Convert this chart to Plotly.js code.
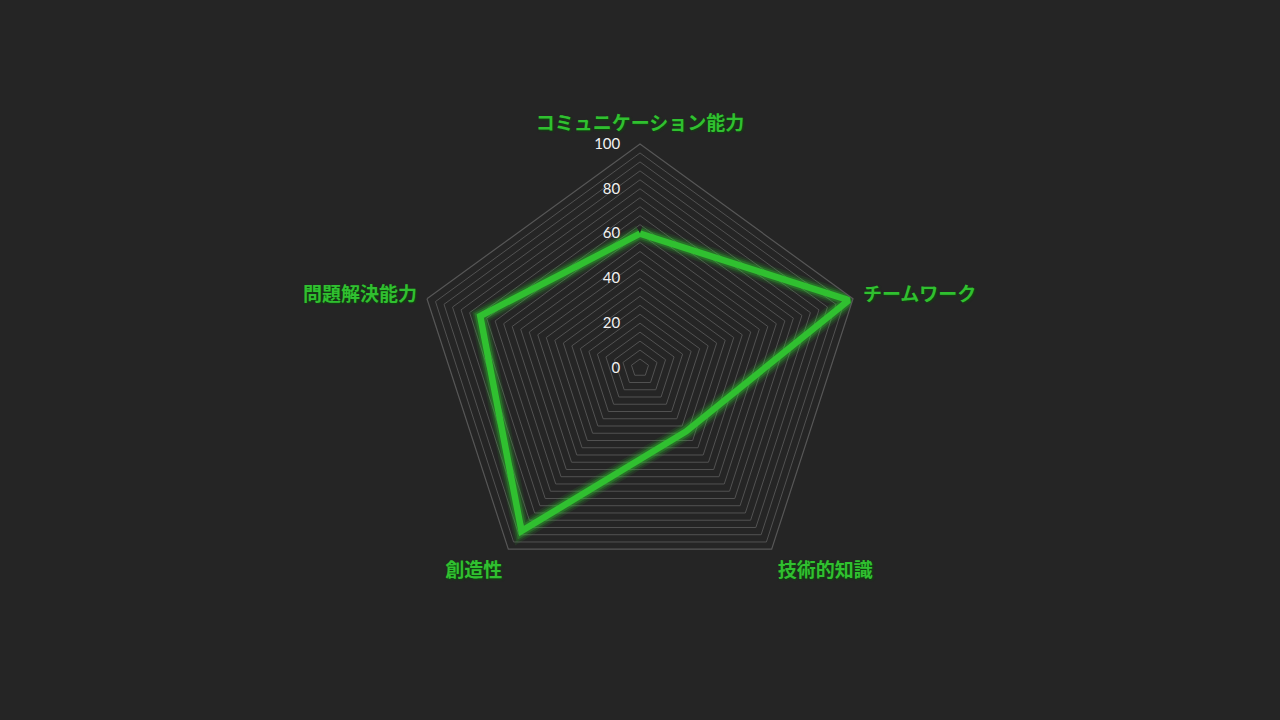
<!DOCTYPE html>
<html>
<head>
<meta charset="utf-8">
<script src="https://cdn.plot.ly/plotly-3.0.1.min.js"></script>
<style>
html,body{margin:0;padding:0;background:#252525;}
#chart{width:1280px;height:720px;}
</style>
</head>
<body>
<div id="chart"></div>
<script>
const categories = ['コミュニケーション能力', 'チームワーク', '技術的知識', '創造性', '問題解決能力'];
const values = [60, 98, 35, 90, 75];
const ringValues = [0,4,8,12,16,20,24,28,32,36,40,44,48,52,56,60,64,68,72,76,80,84,88,92,96,100];
const tickLabels = ringValues.map(v => (v % 20 === 0 ? String(v) : ''));

const theta = categories.concat([categories[0]]);
const r = values.concat([values[0]]);
const green = '#30c030';

const glow = [
  {w: 18, o: 0.10},
  {w: 14, o: 0.17},
  {w: 10.5, o: 0.30}
].map(g => ({
  type: 'scatterpolar', mode: 'lines', r: r, theta: theta,
  line: {color: green, width: g.w},
  opacity: g.o, hoverinfo: 'skip', showlegend: false
}));

const main = {
  type: 'scatterpolar', mode: 'lines', r: r, theta: theta,
  line: {color: green, width: 6.5},
  showlegend: false
};

const layout = {
  width: 1280, height: 720,
  paper_bgcolor: '#252525', plot_bgcolor: '#252525',
  margin: {t: 144, b: 128, l: 0, r: 0},
  showlegend: false,
  polar: {
    bgcolor: '#252525',
    gridshape: 'linear',
    radialaxis: {
      range: [0, 100], angle: 90, side: 'counterclockwise',
      tickvals: ringValues, ticktext: tickLabels,
      showline: false, ticks: 'outside', ticklen: 14, tickcolor: 'rgba(0,0,0,0)',
      gridcolor: '#525252', gridwidth: 1,
      tickfont: {family: 'Lato, "Open Sans", sans-serif', size: 15, color: '#f2f2f2'},
      tickangle: 90
    },
    angularaxis: {
      rotation: 90, direction: 'clockwise',
      showline: true, linecolor: '#575757', linewidth: 1.2,
      showgrid: false,
      ticks: 'outside', ticklen: 6, tickcolor: 'rgba(0,0,0,0)',
      tickfont: {family: '"Noto Sans CJK JP", sans-serif', size: 19, color: green, weight: 'bold',
                 shadow: '1px 1px 2px #0b4a0b'}
    }
  }
};

Plotly.newPlot('chart', glow.concat([main]), layout, {displayModeBar: false, staticPlot: true});
</script>
</body>
</html>
